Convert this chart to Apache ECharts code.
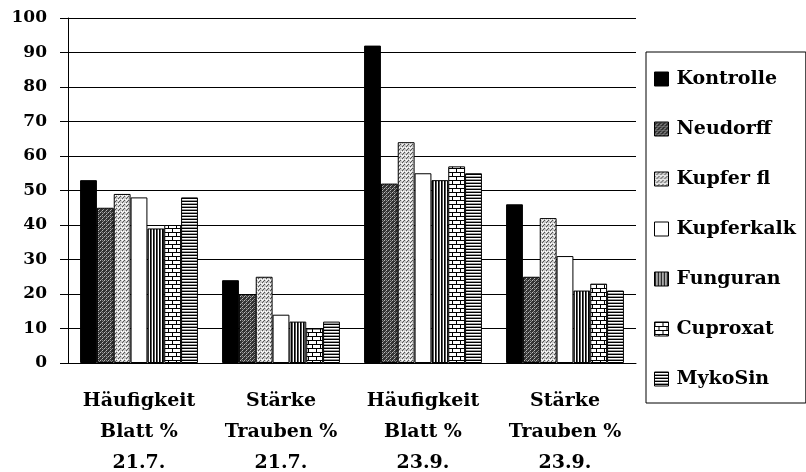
<!DOCTYPE html>
<html>
<head>
<meta charset="utf-8">
<script src="https://cdn.jsdelivr.net/npm/echarts@6/dist/echarts.min.js"></script>
<style>
  html, body { margin: 0; padding: 0; background: #fff; }
  #chart { width: 806px; height: 472px; }
</style>
</head>
<body>
<div id="chart"></div>
<script>
// Kategorien (Achsenbeschriftung) und Werte je Mittel
var categories = ['Häufigkeit\nBlatt %\n21.7.', 'Stärke\nTrauben %\n21.7.', 'Häufigkeit\nBlatt %\n23.9.', 'Stärke\nTrauben %\n23.9.'];
var seriesNames = ['Kontrolle', 'Neudorff', 'Kupfer fl', 'Kupferkalk', 'Funguran', 'Cuproxat', 'MykoSin'];
var kontrolle = [53, 24, 92, 46];
var neudorff = [45, 20, 52, 25];
var kupferFl = [49, 25, 64, 42];
var kupferkalk = [48, 14, 55, 31];
var funguran = [39, 12, 53, 21];
var cuproxat = [40, 10, 57, 23];
var mykosin = [48, 12, 55, 21];
var yTicks = [0, 10, 20, 30, 40, 50, 60, 70, 80, 90, 100];

var FONT = '"DejaVu Serif", "Liberation Serif", serif';

// Muster wie im Schwarz-Weiß-Druck
function tile(w, h, bg, draw) {
    var c = document.createElement('canvas');
    c.width = w; c.height = h;
    var ctx = c.getContext('2d');
    ctx.fillStyle = bg;
    ctx.fillRect(0, 0, w, h);
    draw(ctx);
    return { image: c, repeat: 'repeat' };
}
function dots(ctx, color, pts) {
    ctx.fillStyle = color;
    for (var i = 0; i < pts.length; i++) ctx.fillRect(pts[i][0], pts[i][1], 1, 1);
}

var patterns = [
    '#000',
    // Neudorff: dunkles Raster
    tile(4, 4, '#333', function (ctx) {
        dots(ctx, '#bbb', [[0, 0], [2, 2]]);
        dots(ctx, '#888', [[3, 1], [1, 3], [2, 0]]);
    }),
    // Kupfer fl: helles Raster
    tile(4, 4, '#ccc', function (ctx) {
        dots(ctx, '#555', [[0, 0], [2, 2], [3, 1]]);
        dots(ctx, '#fff', [[1, 3], [2, 0], [3, 3]]);
    }),
    '#fff',
    // Funguran: senkrechte Streifen
    tile(3, 4, '#fff', function (ctx) {
        ctx.fillStyle = '#000'; ctx.fillRect(0, 0, 1, 4);
        ctx.fillStyle = '#555'; ctx.fillRect(1, 0, 1, 4);
    }),
    // Cuproxat: Ziegel
    tile(8, 8, '#fff', function (ctx) {
        ctx.fillStyle = '#000';
        ctx.fillRect(0, 0, 8, 1);
        ctx.fillRect(0, 4, 8, 1);
        ctx.fillRect(0, 0, 1, 4);
        ctx.fillRect(4, 4, 1, 4);
    }),
    // MykoSin: waagrechte Linien
    tile(4, 3, '#fff', function (ctx) {
        ctx.fillStyle = '#000'; ctx.fillRect(0, 0, 4, 1);
        ctx.fillStyle = '#999'; ctx.fillRect(0, 2, 4, 1);
    })
];

var values = [kontrolle, neudorff, kupferFl, kupferkalk, funguran, cuproxat, mykosin];

var chart = echarts.init(document.getElementById('chart'), null, { renderer: 'canvas' });

var series = seriesNames.map(function (name, i) {
    return {
        name: name,
        type: 'bar',
        data: values[i],
        barGap: '0%',
        barCategoryGap: '17%',
        itemStyle: {
            color: patterns[i],
            borderColor: '#000',
            borderWidth: 1
        }
    };
});

var option = {
    animation: false,
    backgroundColor: '#fff',
    grid: {
        left: 68,
        top: 18,
        width: 568,
        height: 345,
        outerBoundsMode: 'none'
    },
    legend: {
        orient: 'vertical',
        left: 646,
        top: 52,
        padding: [17, 10, 14, 8],
        icon: 'rect',
        itemWidth: 14,
        itemHeight: 14,
        itemGap: 30,
        itemStyle: { borderColor: '#000', borderWidth: 1 },
        borderColor: '#000',
        borderWidth: 1,
        data: seriesNames,
        textStyle: {
            fontFamily: FONT,
            fontWeight: 'bold',
            fontSize: 19,
            lineHeight: 20,
            padding: [0, 0, 0, 3],
            color: '#000'
        }
    },
    xAxis: {
        type: 'category',
        data: categories,
        axisLine: { lineStyle: { color: '#000', width: 1 } },
        axisTick: { length: 8, lineStyle: { color: '#000' } },
        axisLabel: {
            margin: 23,
            fontFamily: FONT,
            fontWeight: 'bold',
            fontSize: 19,
            lineHeight: 31,
            color: '#000',
            interval: 0
        }
    },
    yAxis: {
        type: 'value',
        min: yTicks[0],
        max: yTicks[yTicks.length - 1],
        interval: 10,
        axisLine: { show: true, lineStyle: { color: '#000', width: 1 } },
        axisTick: { show: true, length: 8, lineStyle: { color: '#000' } },
        splitLine: { lineStyle: { color: '#000', width: 1 } },
        axisLabel: {
            margin: 21,
            fontFamily: FONT,
            fontWeight: 'bold',
            fontSize: 17,
            color: '#000'
        }
    },
    series: series
};

chart.setOption(option);
</script>
</body>
</html>
